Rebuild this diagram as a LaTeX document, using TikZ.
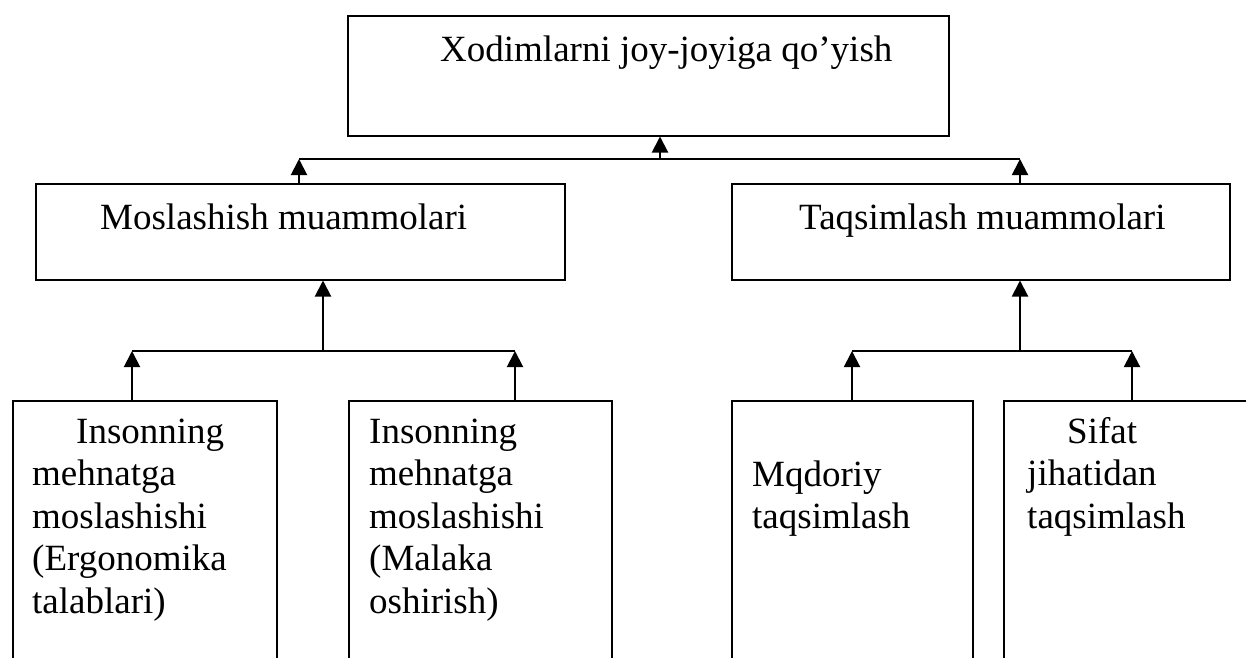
\documentclass[tikz,border=0pt]{standalone}
\usepackage{fontspec}
\setmainfont{Liberation Serif}
\usetikzlibrary{arrows.meta}
\begin{document}
\begin{tikzpicture}[x=1pt,y=-1pt,
  box/.style={draw,line width=1.5pt,rectangle,inner sep=0pt,anchor=north west},
  txt/.style={anchor=base west,inner sep=0pt,font=\fontsize{37}{42.5}\selectfont},
  conn/.style={line width=1.6pt},
  arr/.style={line width=2pt,-{Triangle[width=16pt,length=16pt]}}]
\useasboundingbox (0,0) rectangle (1246,657);
\clip (0,0) rectangle (1246,657);
% boxes
\node[box,minimum width=601pt,minimum height=120pt] (top) at (347,15) {};
\node[box,minimum width=529pt,minimum height=96pt] (mos) at (35,183) {};
\node[box,minimum width=498pt,minimum height=96pt] (taq) at (731,183) {};
\node[box,minimum width=264pt,minimum height=290pt] (b1) at (12,400) {};
\node[box,minimum width=263pt,minimum height=290pt] (b2) at (348,400) {};
\node[box,minimum width=241pt,minimum height=290pt] (b3) at (731,400) {};
\node[box,minimum width=300pt,minimum height=290pt] (b4) at (1003,400) {};
% texts
\node[txt] (ttop) at (440,61) {Xodimlarni joy-joyiga qo’yish};
\node[txt] (tmos) at (100,229) {Moslashish muammolari};
\node[txt] (ttaq) at (799,229) {Taqsimlash muammolari};
\node[txt] (t1) at (32,443) {\begin{tabular}[t]{@{}l@{}}\hspace*{44pt}Insonning\\ mehnatga\\ moslashishi\\ (Ergonomika\\ talablari)\end{tabular}};
\node[txt] (t2) at (369,443) {\begin{tabular}[t]{@{}l@{}}Insonning\\ mehnatga\\ moslashishi\\ (Malaka\\ oshirish)\end{tabular}};
\node[txt] (t3) at (752,486) {\begin{tabular}[t]{@{}l@{}}Mqdoriy\\ taqsimlash\end{tabular}};
\node[txt] (t4) at (1027,443) {\begin{tabular}[t]{@{}l@{}}\hspace*{40pt}Sifat\\ jihatidan\\ taqsimlash\end{tabular}};
% top connectors
\coordinate (jL) at (299,159);
\coordinate (jR) at (1020,159);
\coordinate (jT) at (660,159);
\draw[conn] (jL) -- (jR);
\draw[arr] (jT) -- (jT |- top.south);
\draw[arr] (jL |- mos.north) -- (jL);
\draw[arr] (jR |- taq.north) -- (jR);
% left group
\coordinate (mL) at (323,351);
\coordinate (k1) at (132,351);
\coordinate (k2) at (515,351);
\draw[conn] (k1) -- (k2);
\draw[arr] (mL) -- (mL |- mos.south);
\draw[arr] (k1 |- b1.north) -- (k1);
\draw[arr] (k2 |- b2.north) -- (k2);
% right group
\coordinate (mR) at (1020,351);
\coordinate (k3) at (852,351);
\coordinate (k4) at (1132,351);
\draw[conn] (k3) -- (k4);
\draw[arr] (mR) -- (mR |- taq.south);
\draw[arr] (k3 |- b3.north) -- (k3);
\draw[arr] (k4 |- b4.north) -- (k4);
\end{tikzpicture}
\end{document}
